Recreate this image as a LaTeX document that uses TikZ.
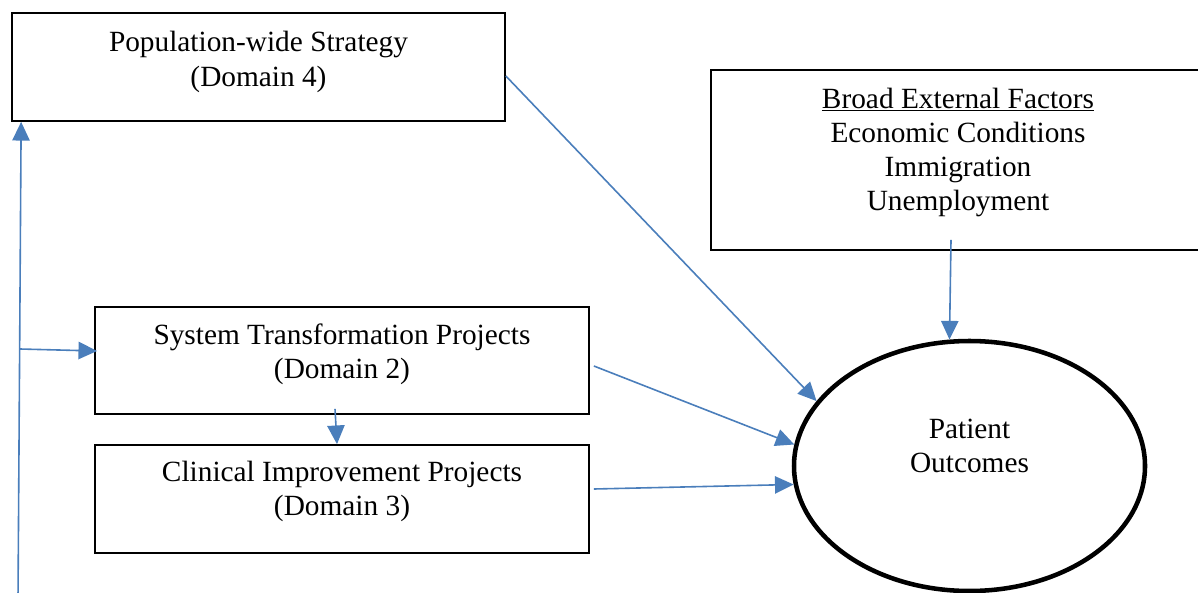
\documentclass[tikz,border=0pt]{standalone}
\usepackage{fontspec}
\setmainfont{Liberation Serif}
\usetikzlibrary{arrows.meta,shapes.geometric}
\definecolor{linkblue}{RGB}{74,126,187}
\newlength{\upx}
\setlength{\upx}{0.75pt}
\begin{document}
\begin{tikzpicture}[x=0.75pt,y=-0.75pt,
	every node/.style={font=\fontsize{22}{25.5}\selectfont},
	box/.style={draw, line width=1.3pt, inner sep=0pt, align=center, minimum width=494\upx},
	link/.style={draw=linkblue, line width=1.2pt, -{Triangle[length=14pt,width=13pt]}}]
	\useasboundingbox (0,0) rectangle (1198,592);
	% boxes
	\node[box, minimum width=493\upx, text height=73\upx, text depth=35\upx] (pop) at (258.5,67) {Population-wide Strategy\\(Domain 4)};
	\node[box, text height=71\upx, text depth=36\upx] (sys) at (342,360.5) {System Transformation Projects\\(Domain 2)};
	\node[box, text height=70\upx, text depth=38\upx] (clin) at (342,499) {Clinical Improvement Projects\\(Domain 3)};
	\node[box, text height=140\upx, text depth=40\upx] (broad) at (958,160) {\underline{Broad External Factors}\\Economic Conditions\\Immigration\\Unemployment};
	\node[ellipse, draw, fill=white, line width=3.4pt, inner sep=0pt, align=center, minimum width=351\upx, minimum height=250\upx, text height=32\upx, text depth=20\upx] (out) at (969.5,466) {Patient\\Outcomes};
	% feedback line on the left
	\coordinate (feed) at (18,600);
	\coordinate (fork) at (20,349);
	\draw[link] (feed) -- ([xshift=10\upx]pop.south west);
	\draw[link] (fork) -- ([xshift=3\upx,yshift=9.5\upx]sys.west);
	% into the outcomes
	\draw[link] ([yshift=-9\upx]pop.east) -- (out.157);
	\draw[link] ([xshift=4\upx,yshift=-5.5\upx]sys.east) -- (out.173);
	\draw[link] ([xshift=4\upx,yshift=10\upx]clin.east) -- (out.186);
	\draw[link] ([xshift=-7\upx,yshift=6\upx]sys.south) -- ([xshift=-5\upx]clin.north);
	\draw[link] ([xshift=-7\upx,yshift=11\upx]broad.south) -- (out.99);
\end{tikzpicture}
\end{document}
